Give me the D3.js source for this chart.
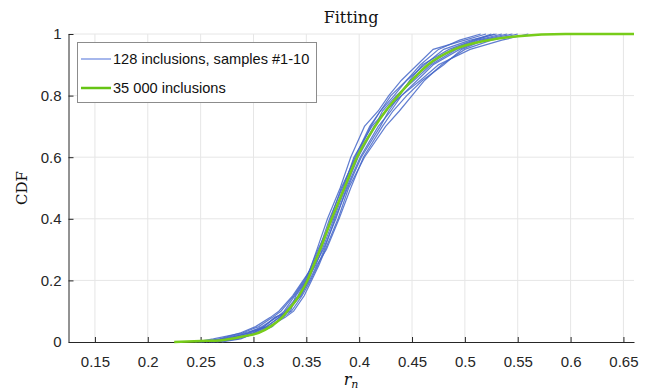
<!DOCTYPE html>
<html><head><meta charset="utf-8">
<script src="https://cdn.jsdelivr.net/npm/d3@7"></script>
<style>body{margin:0;background:#fff}svg{display:block}</style>
</head><body>
<script>
const xTicks = [0.15,0.2,0.25,0.3,0.35,0.4,0.45,0.5,0.55,0.6,0.65];
const yTicks = [0,0.2,0.4,0.6,0.8,1];
const cdfLevels = [0,0.01,0.03,0.05,0.08,0.1,0.15,0.2,0.25,0.3,0.4,0.5,0.6,0.7,0.75,0.8,0.85,0.9,0.95,0.98,1];
const sample1  = [0.245,0.262,0.290,0.305,0.318,0.326,0.338,0.348,0.356,0.362,0.372,0.384,0.396,0.410,0.420,0.430,0.445,0.462,0.480,0.505,0.530];
const sample2  = [0.255,0.272,0.297,0.312,0.325,0.331,0.345,0.352,0.358,0.366,0.378,0.388,0.401,0.418,0.430,0.440,0.455,0.470,0.495,0.515,0.540];
const sample3  = [0.260,0.280,0.300,0.310,0.320,0.335,0.340,0.350,0.355,0.360,0.370,0.382,0.392,0.405,0.418,0.428,0.440,0.455,0.470,0.500,0.520];
const sample4  = [0.250,0.270,0.292,0.315,0.330,0.338,0.348,0.355,0.362,0.368,0.380,0.390,0.405,0.425,0.438,0.450,0.462,0.478,0.500,0.525,0.550];
const sample5  = [0.265,0.285,0.305,0.318,0.326,0.330,0.342,0.350,0.359,0.365,0.376,0.387,0.399,0.415,0.422,0.435,0.452,0.468,0.492,0.512,0.535];
const sample6  = [0.258,0.275,0.295,0.308,0.322,0.329,0.339,0.349,0.355,0.361,0.375,0.385,0.395,0.412,0.425,0.440,0.458,0.475,0.505,0.535,0.560];
const sample7  = [0.270,0.288,0.302,0.315,0.328,0.336,0.346,0.354,0.361,0.367,0.377,0.389,0.402,0.420,0.428,0.438,0.448,0.460,0.485,0.508,0.525];
const sample8  = [0.252,0.268,0.288,0.302,0.316,0.324,0.337,0.347,0.357,0.364,0.373,0.383,0.397,0.411,0.420,0.433,0.445,0.458,0.475,0.495,0.515];
const sample9  = [0.262,0.282,0.300,0.313,0.324,0.333,0.344,0.353,0.360,0.369,0.381,0.392,0.404,0.422,0.432,0.445,0.460,0.480,0.497,0.518,0.545];
const sample10 = [0.248,0.276,0.296,0.310,0.321,0.332,0.343,0.351,0.357,0.363,0.374,0.386,0.398,0.414,0.426,0.436,0.449,0.466,0.488,0.510,0.528];
const samples = [sample1,sample2,sample3,sample4,sample5,sample6,sample7,sample8,sample9,sample10];
const fullX   = [0.225,0.25,0.27,0.29,0.305,0.316,0.327,0.332,0.343,0.351,0.357,0.363,0.374,0.386,0.398,0.415,0.425,0.437,0.45,0.465,0.49,0.522,0.55,0.595,0.66];
const fullCdf = [0,0.003,0.006,0.018,0.03,0.05,0.08,0.1,0.15,0.2,0.25,0.3,0.4,0.5,0.6,0.7,0.75,0.8,0.85,0.9,0.95,0.98,0.993,1,1];

const W=649,H=392;
const svg=d3.select("body").append("svg").attr("width",W).attr("height",H);
const x=d3.scaleLinear().domain([0.125,0.66]).range([68.5,634]);
const y=d3.scaleLinear().domain([0,1]).range([342,34]);
const sans="'Liberation Sans', Arial, Helvetica, sans-serif";
const serif="'DejaVu Serif', 'Liberation Serif', serif";

// grid
svg.append("g").selectAll("line").data(xTicks).join("line")
  .attr("x1",d=>x(d)).attr("x2",d=>x(d)).attr("y1",y(0)).attr("y2",y(1))
  .attr("stroke","#e6e6e6").attr("stroke-width",1);
svg.append("g").selectAll("line").data(yTicks.filter(d=>d>0)).join("line")
  .attr("x1",x(0.125)).attr("x2",x(0.66)).attr("y1",d=>y(d)).attr("y2",d=>y(d))
  .attr("stroke","#e6e6e6").attr("stroke-width",1);

// axes
const xa=svg.append("g").attr("transform",`translate(0,${y(0)})`)
  .call(d3.axisBottom(x).tickValues(xTicks).tickSizeInner(-5).tickSizeOuter(0).tickPadding(14).tickFormat(d3.format("")));
const ya=svg.append("g").attr("transform",`translate(${x(0.125)},0)`)
  .call(d3.axisLeft(y).tickValues(yTicks).tickSizeInner(-5).tickSizeOuter(0).tickPadding(7).tickFormat(d3.format("")));
[xa,ya].forEach(a=>{
  a.selectAll("path,line").attr("stroke","#262626");
  a.selectAll("text").attr("fill","#262626").style("font-family",sans).style("font-size","15px");
});

// lines
const line=d3.line().x(d=>x(d[0])).y(d=>y(d[1]));
const g=svg.append("g");
samples.forEach(s=>{
  g.append("path").datum(s.map((v,i)=>[v,cdfLevels[i]])).attr("d",line)
   .attr("fill","none").attr("stroke","#4466c8").attr("stroke-opacity",0.85).attr("stroke-width",1.2);
});
g.append("path").datum(fullX.map((v,i)=>[v,fullCdf[i]])).attr("d",d3.line().curve(d3.curveMonotoneX).x(d=>x(d[0])).y(d=>y(d[1])))
  .attr("fill","none").attr("stroke","#77cc1a").attr("stroke-width",2.5);

// title & labels
svg.append("text").attr("x",351).attr("y",23).attr("text-anchor","middle")
  .style("font-family",serif).style("font-size","16px").attr("fill","#111").text("Fitting");
svg.append("text").attr("transform",`translate(27,188) rotate(-90)`).attr("text-anchor","middle")
  .style("font-family",serif).style("font-size","15px").attr("fill","#111").text("CDF");
const xl=svg.append("text").attr("x",351).attr("y",385).attr("text-anchor","middle")
  .style("font-family",serif).style("font-size","16px").style("font-style","italic").attr("fill","#111");
xl.append("tspan").text("r");
xl.append("tspan").attr("dy",3).style("font-size","11px").text("n");

// legend
const lg=svg.append("g");
lg.append("rect").attr("x",77.5).attr("y",42.5).attr("width",239).attr("height",60)
  .attr("fill","#fff").attr("stroke","#8c8c8c").attr("stroke-width",1);
const items=[{label:"128 inclusions, samples #1-10",color:"#6a86e0",w:1.2,y:59},
             {label:"35 000 inclusions",color:"#66c414",w:2.5,y:88}];
items.forEach(it=>{
  lg.append("line").attr("x1",81).attr("x2",111).attr("y1",it.y).attr("y2",it.y)
    .attr("stroke",it.color).attr("stroke-width",it.w);
  lg.append("text").attr("x",113).attr("y",it.y+5).style("font-family",sans).style("font-size","14.6px")
    .attr("fill","#111").text(it.label);
});
</script>
</body></html>
